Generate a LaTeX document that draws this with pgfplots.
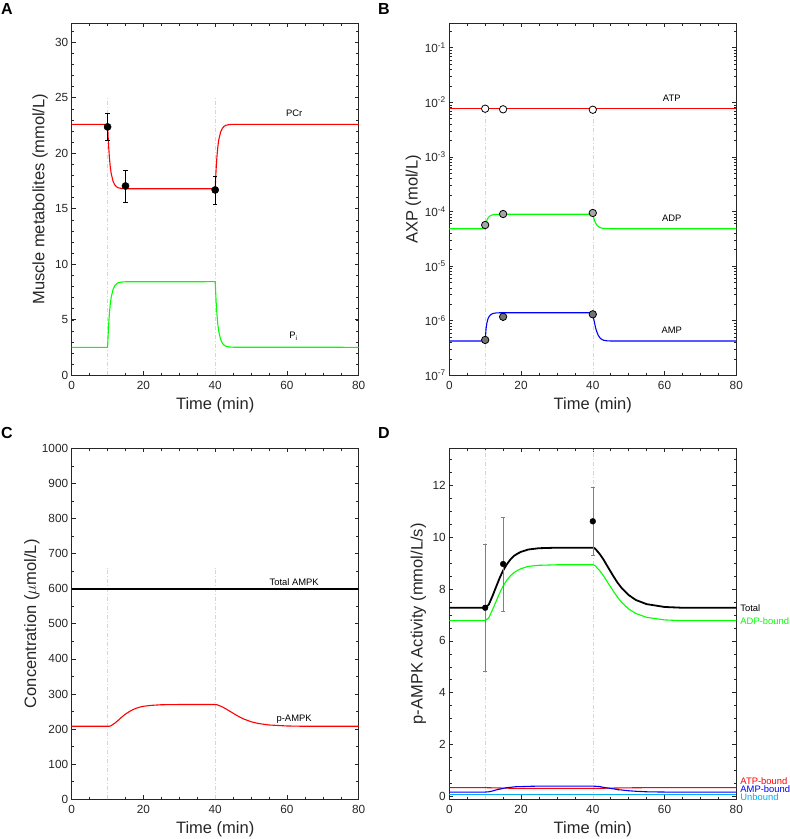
\documentclass[border=0pt]{standalone}
\usepackage{pgfplots}
\pgfplotsset{compat=1.18}
\usepackage{fontspec}
\setmainfont{Liberation Sans}
\definecolor{axgray}{rgb}{0.15,0.15,0.15}
\definecolor{vgray}{rgb}{0.84,0.84,0.84}
\tikzset{ann/.style={font=\fontsize{9.4}{10}\selectfont}}
\pgfplotsset{
  panel/.style={
    scale only axis, width=287pt, height=352pt,
    xmin=0, xmax=80, xtick={0,20,40,60,80},
    minor xtick={5,10,15,25,30,35,45,50,55,65,70,75},
    tick align=inside, tick pos=both,
    major tick length=4pt, minor tick length=2.5pt,
    axis line style={axgray, line width=0.9pt},
    every tick/.style={axgray, line width=0.6pt},
    every minor tick/.style={axgray, line width=0.5pt},
    /pgf/number format/assume math mode=true,
    /pgf/number format/1000 sep={},
    tick label style={font=\fontsize{11.8}{13}\selectfont, text=axgray},
    xticklabel style={yshift=-2.5pt},
    label style={font=\fontsize{16.5}{18}\selectfont, text=axgray},
    xlabel={Time (min)},
    xlabel style={at={(axis description cs:0.5,-0.0852)}, anchor=center},
  },
  vline/.style={vgray, line width=0.5pt, dash pattern=on 4pt off 2pt on 1pt off 2pt, forget plot},
  ebar/.style={error bars/.cd, y dir=both, y explicit,
    error bar style={#1, line width=0.55pt},
    error mark options={#1, rotate=90, mark size=2.2pt, line width=0.55pt}},
}
\begin{document}
\begin{tikzpicture}
\useasboundingbox (0,0) rectangle (790pt,839pt);
\node[font=\bfseries\fontsize{16}{16}\selectfont] at (7pt,830pt) {A};
\node[font=\bfseries\fontsize{16}{16}\selectfont] at (384pt,830pt) {B};
\node[font=\bfseries\fontsize{16}{16}\selectfont] at (7pt,406pt) {C};
\node[font=\bfseries\fontsize{16}{16}\selectfont] at (384pt,406pt) {D};

% ---------------- Panel A ----------------
\begin{axis}[panel, at={(71.7pt,463.7pt)}, anchor=south west,
  ymin=0, ymax=31.7, ytick={0,5,...,30}, minor ytick={1,2,...,31},
  ylabel={Muscle metabolites (mmol/L)},
  ylabel style={at={(axis description cs:-0.1105,0.5)}, anchor=center}]
\addplot[vline] coordinates {(10,0) (10,25)};
\addplot[vline] coordinates {(40,0) (40,25)};
\addplot[red, line width=1.1pt] coordinates {
(0,22.6) (10,22.6) (10.25,20.86) (10.5,19.64) (10.75,18.77) (11,18.19) (11.5,17.50) (12,17.15) (12.5,16.97) (13,16.88) (14,16.82) (15,16.8) (40,16.8) (40.25,18.54) (40.5,19.76) (40.75,20.63) (41,21.21) (41.5,21.90) (42,22.25) (42.5,22.43) (43,22.52) (44,22.58) (45,22.6) (80,22.6)};
\addplot[green, line width=1.1pt] coordinates {
(0,2.52) (10,2.52) (10.25,4.29) (10.5,5.53) (10.75,6.41) (11,7.00) (11.5,7.71) (12,8.07) (12.5,8.24) (13,8.34) (14,8.40) (15,8.42) (40,8.43) (40.25,6.66) (40.5,5.42) (40.75,4.54) (41,3.95) (41.5,3.24) (42,2.88) (42.5,2.71) (43,2.61) (44,2.55) (45,2.53) (80,2.52)};
\addplot[black, only marks, mark=*, mark size=3.6pt, ebar=black]
  coordinates {(10,22.37) +- (0,1.2) (15,17.05) +- (0,1.44) (40,16.69) +- (0,1.26)};
\node[ann] at (axis cs:62,23.6) {PCr};
\node[ann] at (axis cs:61.8,3.5) {P\textsubscript{i}};
\end{axis}

% ---------------- Panel B ----------------
\begin{axis}[panel, at={(449.3pt,463.7pt)}, anchor=south west,
  ymode=log, ymin=1e-7, ymax=0.28,
  ytick={1e-7,1e-6,1e-5,1e-4,1e-3,1e-2,1e-1},
  yticklabels={10\textsuperscript{-7},10\textsuperscript{-6},10\textsuperscript{-5},10\textsuperscript{-4},10\textsuperscript{-3},10\textsuperscript{-2},10\textsuperscript{-1}},
  minor ytick={2e-7,3e-7,4e-7,5e-7,6e-7,7e-7,8e-7,9e-7,
    2e-6,3e-6,4e-6,5e-6,6e-6,7e-6,8e-6,9e-6,
    2e-5,3e-5,4e-5,5e-5,6e-5,7e-5,8e-5,9e-5,
    2e-4,3e-4,4e-4,5e-4,6e-4,7e-4,8e-4,9e-4,
    2e-3,3e-3,4e-3,5e-3,6e-3,7e-3,8e-3,9e-3,
    2e-2,3e-2,4e-2,5e-2,6e-2,7e-2,8e-2,9e-2,2e-1},
  ylabel={AXP (mol/L)},
  ylabel style={at={(axis description cs:-0.125,0.5)}, anchor=center}]
\addplot[vline] coordinates {(10,1e-7) (10,7.6e-3)};
\addplot[vline] coordinates {(40,1e-7) (40,7.6e-3)};
\addplot[red, line width=1.1pt] coordinates {(0,7.64e-3) (80,7.64e-3)};
\addplot[green, line width=1.1pt] coordinates {
(0,4.84e-5) (10,4.84e-5) (10.25,6.06e-5) (10.5,6.91e-5) (10.75,7.52e-5) (11,7.93e-5) (11.5,8.41e-5) (12,8.66e-5) (12.5,8.78e-5) (13,8.84e-5) (14,8.89e-5) (15,8.9e-5) (40,8.9e-5) (40.25,7.68e-5) (40.5,6.83e-5) (40.75,6.22e-5) (41,5.81e-5) (41.5,5.33e-5) (42,5.08e-5) (42.5,4.96e-5) (43,4.90e-5) (44,4.85e-5) (45,4.84e-5) (80,4.84e-5)};
\addplot[blue, line width=1.1pt] coordinates {
(0,4.25e-7) (10,4.25e-7) (10.25,7.18e-7) (10.5,9.22e-7) (10.75,1.069e-6) (11,1.166e-6) (11.5,1.283e-6) (12,1.342e-6) (12.5,1.371e-6) (13,1.386e-6) (14,1.397e-6) (15,1.4e-6) (40,1.4e-6) (40.25,1.082e-6) (40.5,9.03e-7) (40.75,7.56e-7) (41,6.59e-7) (41.5,5.42e-7) (42,4.83e-7) (42.5,4.54e-7) (43,4.39e-7) (44,4.28e-7) (45,4.25e-7) (80,4.25e-7)};
\addplot[only marks, mark=*, mark size=3.7pt, mark options={fill=white, draw=black, line width=0.8pt},
  error bars/.cd, y dir=both, y explicit,
  error bar style={black, line width=0.5pt},
  error mark options={black, rotate=90, mark size=1.2pt, line width=0.5pt}]
  coordinates {(10,7.64e-3) +- (0,5e-4) (15,7.45e-3) +- (0,5e-4) (40,7.31e-3) +- (0,5e-4)};
\addplot[only marks, mark=*, mark size=3.7pt, mark options={fill=black!35, draw=black, line width=0.8pt},
  error bars/.cd, y dir=both, y explicit,
  error bar style={black, line width=0.5pt},
  error mark options={black, rotate=90, mark size=1.2pt, line width=0.5pt}]
  coordinates {(10,5.66e-5) +- (0,4e-6) (15,9.0e-5) +- (0,8e-6) (40,9.4e-5) +- (0,8e-6)};
\addplot[only marks, mark=*, mark size=3.7pt, mark options={fill=black!55, draw=black, line width=0.8pt},
  error bars/.cd, y dir=both, y explicit,
  error bar style={black, line width=0.5pt},
  error mark options={black, rotate=90, mark size=1.2pt, line width=0.5pt}]
  coordinates {(10,4.44e-7) +- (0,3e-8) (15,1.18e-6) +- (0,1.8e-7) (40,1.31e-6) +- (0,1.5e-7)};
\node[ann] at (axis cs:62,1.18e-2) {ATP};
\node[ann] at (axis cs:62,7.6e-5) {ADP};
\node[ann] at (axis cs:62,6.67e-7) {AMP};
\end{axis}

% ---------------- Panel C ----------------
\begin{axis}[panel, at={(71.7pt,39.7pt)}, anchor=south west, height=351pt,
  ymin=0, ymax=1000, ytick={0,100,...,1000}, minor ytick={50,150,...,950},
  ylabel={Concentration ($\mu$mol/L)},
  xlabel style={at={(axis description cs:0.5,-0.0855)}, anchor=center},
  ylabel style={at={(axis description cs:-0.139,0.5)}, anchor=center}]
\addplot[vline] coordinates {(10,0) (10,660)};
\addplot[vline] coordinates {(40,0) (40,660)};
\addplot[black, line width=1.8pt] coordinates {(0,600) (80,600)};
\addplot[red, line width=1.1pt] coordinates {
(0,208) (10,208) (10.5,208) (11,209.9) (12,216.7) (13,225.4) (14,234.7) (15,242.7) (16,249.5) (17,255.1) (18,259.5) (19,262.6) (20,265.0) (22,267.5) (25,269.4) (30,270) (40,270) (40.5,269.4) (41,267.5) (42,263.2) (43,257.6) (44,251.4) (45,245.2) (46,239) (47,233.4) (48,228.5) (50,221) (52,216.1) (55,211.7) (60,208.9) (65,208) (80,208)};
\node[ann] at (axis cs:62,619) {Total AMPK};
\node[ann] at (axis cs:62,227) {p-AMPK};
\end{axis}

% ---------------- Panel D ----------------
\begin{axis}[panel, at={(449.3pt,39.7pt)}, anchor=south west, height=351pt, clip=false,
  ymin=-0.12, ymax=13.44, ytick={0,2,...,12}, minor ytick={0.5,1,...,13},
  ylabel={p-AMPK Activity (mmol/L/s)},
  xlabel style={at={(axis description cs:0.5,-0.0855)}, anchor=center},
  ylabel style={at={(axis description cs:-0.108,0.5)}, anchor=center}]
\addplot[vline] coordinates {(10,-0.12) (10,13.44)};
\addplot[vline] coordinates {(40,-0.12) (40,13.44)};
\addplot[cyan, line width=1.1pt] coordinates {(0,0.05) (80,0.05)};
\addplot[red, line width=1.1pt] coordinates {(0,0.33) (10,0.33) (13,0.32) (16,0.31) (20,0.30) (40,0.30) (44,0.31) (48,0.32) (55,0.33) (80,0.33)};
\addplot[blue, line width=1.1pt] coordinates {
(0,0.16) (10,0.16) (11,0.17) (12,0.20) (13,0.24) (14,0.27) (15,0.30) (16,0.33) (17,0.34) (18,0.36) (19,0.37) (20,0.37) (22,0.38) (25,0.39) (40,0.39) (41,0.38) (42,0.37) (43,0.34) (44,0.32) (45,0.30) (46,0.28) (47,0.25) (48,0.24) (50,0.21) (52,0.19) (55,0.17) (60,0.16) (80,0.16)};
\addplot[green, line width=1.1pt] coordinates {
(0,6.78) (10,6.78) (11,6.89) (12,7.19) (13,7.51) (14,7.84) (15,8.12) (16,8.34) (17,8.51) (18,8.64) (19,8.72) (20,8.79) (22,8.88) (25,8.92) (30,8.94) (40,8.94) (40.5,8.92) (41,8.85) (42,8.70) (43,8.51) (44,8.29) (45,8.08) (46,7.86) (47,7.67) (48,7.49) (50,7.23) (52,7.06) (55,6.91) (60,6.81) (65,6.78) (80,6.78)};
\addplot[black, line width=1.8pt] coordinates {
(0,7.28) (10,7.28) (11,7.40) (12,7.72) (13,8.07) (14,8.42) (15,8.72) (16,8.95) (17,9.14) (18,9.28) (19,9.37) (20,9.44) (22,9.53) (25,9.58) (30,9.60) (40,9.60) (40.5,9.58) (41,9.51) (42,9.34) (43,9.14) (44,8.90) (45,8.67) (46,8.44) (47,8.23) (48,8.05) (50,7.77) (52,7.58) (55,7.42) (60,7.31) (65,7.28) (80,7.28)};
\addplot[black, only marks, mark=*, mark size=2.9pt, ebar=black!50]
  coordinates {(10,7.28) +- (0,2.47) (15,8.97) +- (0,1.81) (40,10.62) +- (0,1.31)};
\node[ann, anchor=west, inner sep=0pt] at (axis cs:81.1,7.28) {Total};
\node[ann, anchor=west, inner sep=0pt, text=green] at (axis cs:81.1,6.77) {ADP-bound};
\node[ann, anchor=west, inner sep=0pt, text=red] at (axis cs:81.1,0.58) {ATP-bound};
\node[ann, anchor=west, inner sep=0pt, text=blue] at (axis cs:81.1,0.27) {AMP-bound};
\node[ann, anchor=west, inner sep=0pt, text=cyan] at (axis cs:81.1,-0.05) {Unbound};
\end{axis}
\end{tikzpicture}
\end{document}
